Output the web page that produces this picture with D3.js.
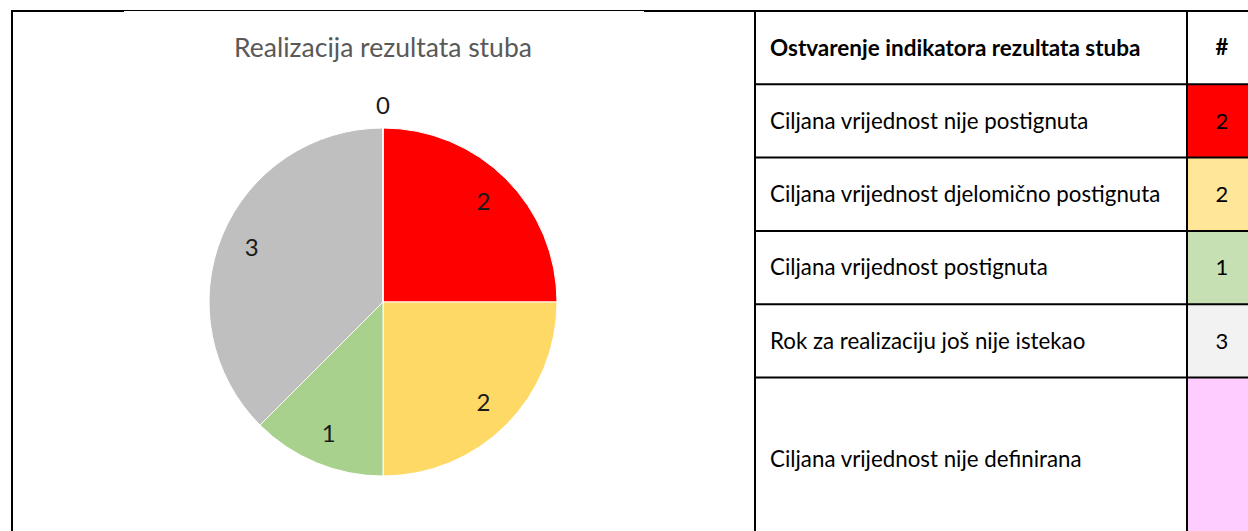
<!DOCTYPE html>
<html>
<head>
<meta charset="utf-8">
<script src="https://cdn.jsdelivr.net/npm/d3@7"></script>
<style>
  body { margin: 0; background: #fff; }
  svg { display: block; font-family: Lato, "Open Sans", sans-serif; }
</style>
</head>
<body>
<svg id="canvas"></svg>
<script>
// data
const title = "Realizacija rezultata stuba";
const tableHeader = ["Ostvarenje indikatora rezultata stuba", "#"];
const categories = [
  "Ciljana vrijednost nije postignuta",
  "Ciljana vrijednost djelomično postignuta",
  "Ciljana vrijednost postignuta",
  "Rok za realizaciju još nije istekao",
  "Ciljana vrijednost nije definirana"
];
const values = [2, 2, 1, 3, 0];
const tableValues = ["2", "2", "1", "3", ""];
const pieColors = ["#FF0000", "#FFD966", "#A9D18E", "#BFBFBF", "#FFCCFF"];
const cellColors = ["#FF0000", "#FFE699", "#C6E0B4", "#F2F2F2", "#FFCCFF"];

const width = 1248;
const height = 531;

const svg = d3.select('#canvas')
  .attr('width', width)
  .attr('height', height);

// chart frame (left + top border)
svg.append('line').attr('x1', 12).attr('x2', 12).attr('y1', 10).attr('y2', height)
  .attr('stroke', '#000').attr('stroke-width', 2);
svg.append('line').attr('x1', 11).attr('x2', 124).attr('y1', 11).attr('y2', 11)
  .attr('stroke', '#000').attr('stroke-width', 2);
svg.append('line').attr('x1', 124).attr('x2', 644).attr('y1', 10.5).attr('y2', 10.5)
  .attr('stroke', '#000').attr('stroke-width', 1);
svg.append('line').attr('x1', 644).attr('x2', width).attr('y1', 11).attr('y2', 11)
  .attr('stroke', '#000').attr('stroke-width', 2);

// title
svg.append('text')
  .attr('x', 383)
  .attr('y', 57)
  .attr('text-anchor', 'middle')
  .style('font-size', '26.5px')
  .style('fill', '#595959')
  .text(title);

// pie
const cx = 383, cy = 302, radius = 174;
const pie = d3.pie().sort(null).value(d => d);
const arc = d3.arc().innerRadius(0).outerRadius(radius);
const labelArc = d3.arc().innerRadius(142).outerRadius(142);
const zeroArc = d3.arc().innerRadius(196).outerRadius(196);

const g = svg.append('g').attr('transform', `translate(${cx},${cy})`);
const arcs = pie(values);

g.selectAll('path')
  .data(arcs)
  .enter()
  .append('path')
  .attr('d', arc)
  .attr('fill', (d, i) => pieColors[i])
  .attr('stroke', '#fff')
  .attr('stroke-width', 1);

g.selectAll('text')
  .data(arcs)
  .enter()
  .append('text')
  .attr('transform', d => `translate(${(d.value === 0 ? zeroArc : labelArc).centroid(d)})`)
  .attr('text-anchor', 'middle')
  .attr('dy', '0.35em')
  .style('font-size', '24px')
  .style('fill', '#1a1a1a')
  .text(d => d.value);

// table
const tLeft = 755, tDivider = 1187, tRight = 1258;
const rows = d3.scaleBand()
  .domain(['header', ...categories])
  .range([11, 11 + 6 * 73.3]);

const table = svg.append('g');

// value cells
table.selectAll('rect.cell')
  .data(categories)
  .enter()
  .append('rect')
  .attr('class', 'cell')
  .attr('x', tDivider)
  .attr('y', d => rows(d))
  .attr('width', tRight - tDivider)
  .attr('height', (d, i) => i === categories.length - 1 ? height - rows(d) : rows.bandwidth())
  .attr('fill', (d, i) => cellColors[i]);

// horizontal rules
table.selectAll('line.hrule')
  .data(categories)
  .enter()
  .append('line')
  .attr('class', 'hrule')
  .attr('x1', tLeft)
  .attr('x2', width)
  .attr('y1', d => rows(d))
  .attr('y2', d => rows(d))
  .attr('stroke', '#000')
  .attr('stroke-width', 2);

// vertical rules
[tLeft, tDivider].forEach(x => {
  table.append('line')
    .attr('x1', x).attr('x2', x)
    .attr('y1', 10).attr('y2', height)
    .attr('stroke', '#000')
    .attr('stroke-width', 2);
});

// header
table.append('text')
  .attr('x', 770)
  .attr('y', rows('header') + rows.bandwidth() / 2)
  .attr('dy', '0.35em')
  .style('font-size', '22.5px')
  .style('font-weight', 'bold')
  .style('fill', '#000')
  .text(tableHeader[0]);
table.append('text')
  .attr('x', 1222)
  .attr('y', rows('header') + rows.bandwidth() / 2)
  .attr('dy', '0.35em')
  .attr('text-anchor', 'middle')
  .style('font-size', '22px')
  .style('font-weight', 'bold')
  .style('fill', '#000')
  .text(tableHeader[1]);

// category labels
table.selectAll('text.cat')
  .data(categories)
  .enter()
  .append('text')
  .attr('class', 'cat')
  .attr('x', 770)
  .attr('y', (d, i) => i === categories.length - 1 ? rows(d) + 82 : rows(d) + rows.bandwidth() / 2)
  .attr('dy', '0.35em')
  .style('font-size', '22.3px')
  .style('fill', '#000')
  .text(d => d);

// value labels
table.selectAll('text.val')
  .data(categories)
  .enter()
  .append('text')
  .attr('class', 'val')
  .attr('x', 1222)
  .attr('y', d => rows(d) + rows.bandwidth() / 2)
  .attr('dy', '0.35em')
  .attr('text-anchor', 'middle')
  .style('font-size', '22px')
  .style('fill', '#000')
  .text((d, i) => tableValues[i]);
</script>
</body>
</html>
